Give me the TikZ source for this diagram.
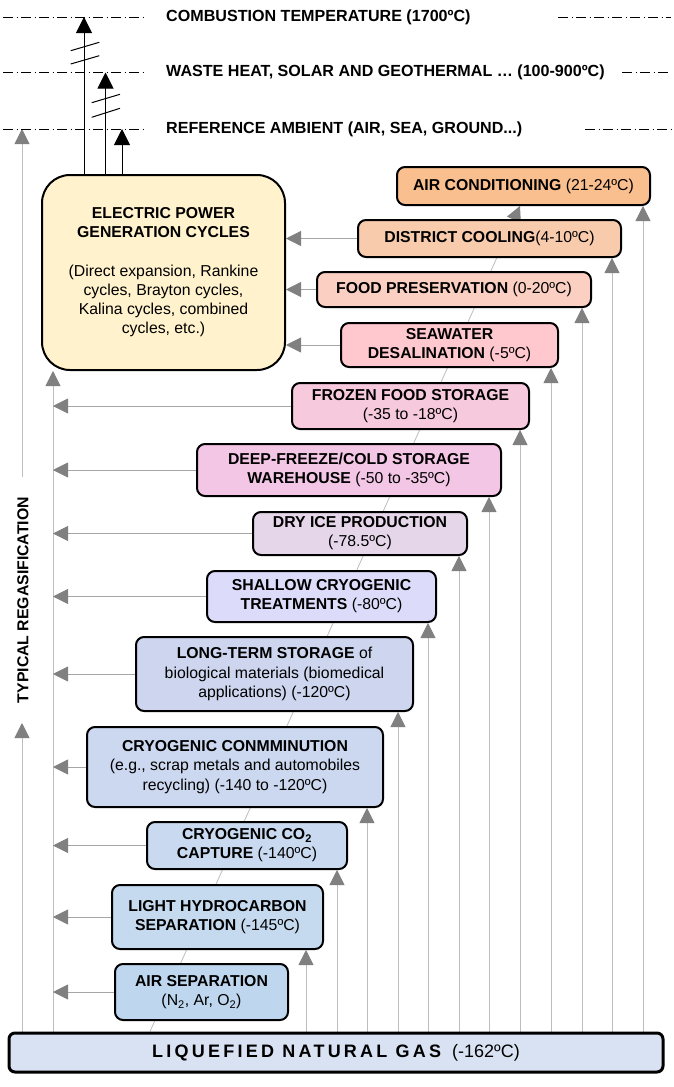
\documentclass[tikz,border=0pt]{standalone}
\usepackage{fontspec}
\setmainfont{Liberation Sans}
\newfontfamily\lngfont[LetterSpace=18]{Liberation Sans}
\usetikzlibrary{arrows.meta,backgrounds}
\definecolor{hshaft}{HTML}{A6A6A6}
\definecolor{vshaft}{HTML}{BDBDBD}
\definecolor{headgray}{HTML}{808080}
\definecolor{cAC}{HTML}{FABF8F}
\definecolor{cDC}{HTML}{F8CBAD}
\definecolor{cFP}{HTML}{FBD0C2}
\definecolor{cSW}{HTML}{FFC7CE}
\definecolor{cFF}{HTML}{F6C9DC}
\definecolor{cDF}{HTML}{F4C6E6}
\definecolor{cDI}{HTML}{E5D6EA}
\definecolor{cSC}{HTML}{DCDCFA}
\definecolor{cLT}{HTML}{CDD6EE}
\definecolor{cCC}{HTML}{CCD8EF}
\definecolor{cCO}{HTML}{C9D9EF}
\definecolor{cLH}{HTML}{C5DAEF}
\definecolor{cAS}{HTML}{BED7EE}
\definecolor{cLNG}{HTML}{D9E2F3}
\definecolor{cEL}{HTML}{FFF2CC}
\tikzset{
  box/.style={draw=black, line width=2pt, rounded corners=8pt, align=center, inner sep=0pt,
    font=\fontsize{15.8}{19.2}\selectfont},
  gharrow/.style={draw=hshaft, line width=0.8pt, -{Triangle[length=15pt,width=15pt,color=headgray]}},
  gvarrow/.style={draw=vshaft, line width=0.8pt, -{Triangle[length=15pt,width=15pt,color=headgray]}},
  barrow/.style={draw=black, line width=1pt, -{Triangle[length=16pt,width=16pt]}},
  breakmark/.style={draw=black, line width=1pt},
  dashdot/.style={draw=black, line width=0.8pt, dash pattern=on 10pt off 3.5pt on 1pt off 3.5pt},
  toplabel/.style={anchor=west, inner sep=0pt, font=\bfseries\fontsize{16.1}{19}\selectfont}
}
\begin{document}
\begin{tikzpicture}[x=1pt,y=-1pt]
\useasboundingbox (0,0) rectangle (674,1087);
\begin{scope}[on background layer]
\fill[white] (0,0) rectangle (674,1087);
\end{scope}

% top reference lines and labels
\draw[dashdot] (3,17) -- (145,17);
\draw[dashdot] (558,17) -- (671,17);
\draw[dashdot] (3,72.5) -- (145,72.5);
\draw[dashdot] (622,72.5) -- (671,72.5);
\draw[dashdot] (3,129) -- (145,129);
\draw[dashdot] (585,129) -- (671,129);
\node[toplabel] (t1) at (166,17) {COMBUSTION TEMPERATURE (1700ºC)};
\node[toplabel] (t2) at (166,72.5) {WASTE HEAT, SOLAR AND GEOTHERMAL … (100-900ºC)};
\node[toplabel] (t3) at (166,129) {REFERENCE AMBIENT (AIR, SEA, GROUND...)};

% electric power box
\node[box, rounded corners=28pt, fill=cEL, minimum width=243pt, minimum height=195pt] (elec) at (163.5,272.5)
 {\textbf{ELECTRIC POWER}\\ \textbf{GENERATION CYCLES}\\[19.2pt] (Direct expansion, Rankine\\ cycles, Brayton cycles,\\ Kalina cycles, combined\\ cycles, etc.)};

% right column boxes
\node[box, fill=cAC, minimum width=253pt, minimum height=38pt] (ac) at (523.5,186) {\textbf{AIR CONDITIONING} (21-24ºC)};
\node[box, fill=cDC, minimum width=263pt, minimum height=37pt] (dc) at (489.5,238.5) {\textbf{DISTRICT COOLING}(4-10ºC)};
\node[box, fill=cFP, minimum width=274pt, minimum height=35pt] (fp) at (454,289.5) {\textbf{FOOD PRESERVATION} (0-20ºC)};
\node[box, fill=cSW, minimum width=217pt, minimum height=44pt] (sw) at (449.5,345) {\textbf{SEAWATER}\\ \textbf{DESALINATION} (-5ºC)};

% descending boxes
\node[box, fill=cFF, minimum width=237pt, minimum height=46pt] (ff) at (410.5,406) {\textbf{FROZEN FOOD STORAGE}\\ (-35 to -18ºC)};
\node[box, fill=cDF, minimum width=304pt, minimum height=52pt] (df) at (349,470) {\textbf{DEEP-FREEZE/COLD STORAGE}\\ \textbf{WAREHOUSE} (-50 to -35ºC)};
\node[box, fill=cDI, minimum width=214pt, minimum height=43pt] (di) at (360,533.5) {\textbf{DRY ICE PRODUCTION}\\ (-78.5ºC)};
\node[box, fill=cSC, minimum width=229pt, minimum height=51pt] (sc) at (321.5,596.5) {\textbf{SHALLOW CRYOGENIC}\\ \textbf{TREATMENTS} (-80ºC)};
\node[box, fill=cLT, minimum width=277pt, minimum height=74pt] (lt) at (274.5,674) {\textbf{LONG-TERM STORAGE} of\\ biological materials (biomedical\\ applications) (-120ºC)};
\node[box, fill=cCC, minimum width=296pt, minimum height=80pt] (cc) at (235,767) {\textbf{CRYOGENIC CONMMINUTION}\\ (e.g., scrap metals and automobiles\\ recycling) (-140 to -120ºC)};
\node[box, fill=cCO, minimum width=200pt, minimum height=47pt] (co) at (247,845.5) {\textbf{CRYOGENIC CO\textsubscript{2}}\\ \textbf{CAPTURE} (-140ºC)};
\node[box, fill=cLH, minimum width=211pt, minimum height=64pt] (lh) at (217.5,917) {\textbf{LIGHT HYDROCARBON}\\ \textbf{SEPARATION} (-145ºC)};
\node[box, fill=cAS, minimum width=173pt, minimum height=56pt] (as) at (201.5,992) {\textbf{AIR SEPARATION}\\ (N\textsubscript{2}, Ar, O\textsubscript{2})};

% LNG
\node[box, line width=3pt, rounded corners=6pt, fill=cLNG, minimum width=654pt, minimum height=39pt,
  font=\fontsize{18}{21}\selectfont] (lng) at (336,1052.5) {{\lngfont\bfseries LIQUEFIED NATURAL GAS}\hspace{6pt} (-162ºC)};

% vertical label
\node[rotate=90, inner sep=0pt, font=\bfseries\fontsize{15.8}{18}\selectfont] (reg) at (23,600) {TYPICAL REGASIFICATION};

% coordinates
\coordinate (bus1) at (22,0);
\coordinate (bus2) at (53,0);
\coordinate (regLo) at (22,723);
\coordinate (regHi) at (22,477);
\coordinate (regTop) at (22,129);
\coordinate (p1) at (84,17);
\coordinate (p2) at (105.5,72.5);
\coordinate (p3) at (122,129);
\coordinate (d0) at (150,0);
\coordinate (d1) at (520,0);

\begin{scope}[on background layer]
% diagonal
\draw[gvarrow] (d0 |- lng.north) -- (d1 |- ac.south);
% left buses
\draw[gvarrow] (bus1 |- lng.north) -- (regLo);
\draw[gvarrow] (regHi) -- (regTop);
\draw[gvarrow] (bus2 |- lng.north) -- (bus2 |- elec.south);
% vertical supply arrows
\foreach \b/\x in {lh/306, co/337, cc/367, lt/398, sc/428, di/459, df/489, ff/520, sw/551, fp/582, dc/612, ac/643}{
  \coordinate (col) at (\x,0);
  \draw[gvarrow] (col |- lng.north) -- (col |- \b.south);
}
% left arrows
\foreach \b in {ff, df, di, sc, lt, cc, co, lh, as}{
  \draw[gharrow] (\b.west) -- (\b.west -| bus2);
}
\foreach \b in {dc, fp, sw}{
  \draw[gharrow] (\b.west) -- (\b.west -| elec.east);
}
% black arrows up
\draw[barrow] (p1 |- elec.north) -- (p1);
\draw[barrow] (p2 |- elec.north) -- (p2);
\draw[barrow] (p3 |- elec.north) -- (p3);
\end{scope}
% break marks
\draw[breakmark] (70.7,50.7) -- (99.3,42.3);
\draw[breakmark] (70.7,64) -- (99.3,55.7);
\draw[breakmark] (91.7,102.7) -- (120,94.3);
\draw[breakmark] (91.7,117.3) -- (120,108.3);
\end{tikzpicture}
\end{document}
